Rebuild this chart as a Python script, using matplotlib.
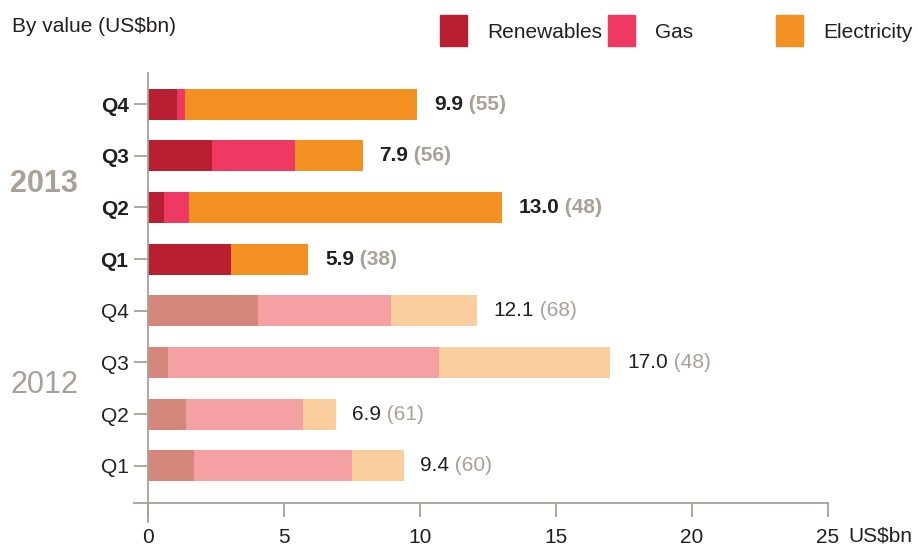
import matplotlib.pyplot as plt
from matplotlib.patches import Rectangle
from matplotlib.lines import Line2D
import numpy as np

plt.rcParams['font.family'] = ['Liberation Sans', 'DejaVu Sans']

# --------------------------------------------------
# Data (US$bn), bottom to top: 2012 Q1 ... 2013 Q4
# --------------------------------------------------
quarters   = ['Q1', 'Q2', 'Q3', 'Q4', 'Q1', 'Q2', 'Q3', 'Q4']
years      = [2012, 2012, 2012, 2012, 2013, 2013, 2013, 2013]
renewables = [1.7, 1.4, 0.75, 4.05, 3.05, 0.6, 2.35, 1.05]
gas        = [5.8, 4.3, 9.95, 4.9, 0.0, 0.9, 3.05, 0.3]
totals     = [9.4, 6.9, 17.0, 12.1, 5.9, 13.0, 7.9, 9.9]
deals      = [60, 61, 48, 68, 38, 48, 56, 55]
electricity = [t - r - g for t, r, g in zip(totals, renewables, gas)]

# colours: 2013 full, 2012 faded
col_2013 = ['#B81F33', '#EE3A62', '#F39021']
col_2012 = ['#D6877B', '#F5A0A3', '#FBCE9F']
grey = '#A9A097'
dark = '#231F20'
fs = 15

# --------------------------------------------------
# Figure
# --------------------------------------------------
fig = plt.figure(figsize=(9.19, 5.46), dpi=100)
ax = fig.add_axes([0.161, 0.0788, 0.740, 0.7872])

y = np.arange(len(quarters))
cols = [col_2013 if yr == 2013 else col_2012 for yr in years]
c_r = [c[0] for c in cols]
c_g = [c[1] for c in cols]
c_e = [c[2] for c in cols]

ax.barh(y, renewables, height=0.6, color=c_r)
ax.barh(y, gas, left=renewables, height=0.6, color=c_g)
left_e = [r + g for r, g in zip(renewables, gas)]
ax.barh(y, electricity, left=left_e, height=0.6, color=c_e)

ax.set_xlim(0, 25)
ax.set_ylim(-0.72, 7.6)

# --------------------------------------------------
# Value labels
# --------------------------------------------------
for yi, tot, n, yr in zip(y, totals, deals, years):
    w = 'bold' if yr == 2013 else 'normal'
    t1 = ax.annotate(f'{tot:.1f}', xy=(tot, yi), xytext=(12, 0),
                     textcoords='offset points', va='center', ha='left',
                     fontsize=fs, color=dark, fontweight=w)
    ax.annotate(f' ({n})', xy=(1, 0.5), xycoords=t1, va='center',
                ha='left', fontsize=fs, color=grey, fontweight=w)

# --------------------------------------------------
# Axes styling
# --------------------------------------------------
for s in ax.spines.values():
    s.set_visible(False)

# left spine (runs a bit below the x axis) and bottom spine (starts left)
ax.add_line(Line2D([0, 0], [-0.045, 1.0], transform=ax.transAxes,
                   color=grey, lw=1.3, clip_on=False))
ax.add_line(Line2D([-0.021, 1.0], [0, 0], transform=ax.transAxes,
                   color=grey, lw=1.3, clip_on=False))

ax.set_yticks(y)
ax.set_yticklabels(quarters)
for lab, yr in zip(ax.get_yticklabels(), years):
    lab.set_fontweight('bold' if yr == 2013 else 'normal')
ax.tick_params(axis='y', length=10, width=1.3, color=grey, labelsize=fs,
               labelcolor=dark, pad=4)

ax.set_xticks([0, 5, 10, 15, 20, 25])
ax.tick_params(axis='x', length=10, width=1.3, color=grey, labelsize=fs,
               labelcolor=dark, pad=8)

# --------------------------------------------------
# Text around the plot
# --------------------------------------------------
fig.text(848 / 919, 1 - 536 / 546, 'US$bn', fontsize=fs, color=dark,
         ha='left', va='center')
fig.text(12 / 919, 1 - 26 / 546, 'By value (US$bn)', fontsize=fs,
         color=dark, ha='left', va='center')
fig.text(44 / 919, 1 - 184 / 546, '2013', fontsize=22, color=grey,
         ha='center', va='center', fontweight='bold')
fig.text(44 / 919, 1 - 385 / 546, '2012', fontsize=22, color=grey,
         ha='center', va='center')

# legend drawn by hand
legend_items = [('Renewables', 440, col_2013[0]),
                ('Gas', 608, col_2013[1]),
                ('Electricity', 776, col_2013[2])]
for name, x0, c in legend_items:
    fig.add_artist(Rectangle((x0 / 919, 1 - 46 / 546), 27 / 919, 31 / 546,
                             transform=fig.transFigure, color=c))
    fig.text((x0 + 47) / 919, 1 - 33 / 546, name, fontsize=fs, color=dark,
             ha='left', va='center')

fig.savefig('out.png', dpi=100)
